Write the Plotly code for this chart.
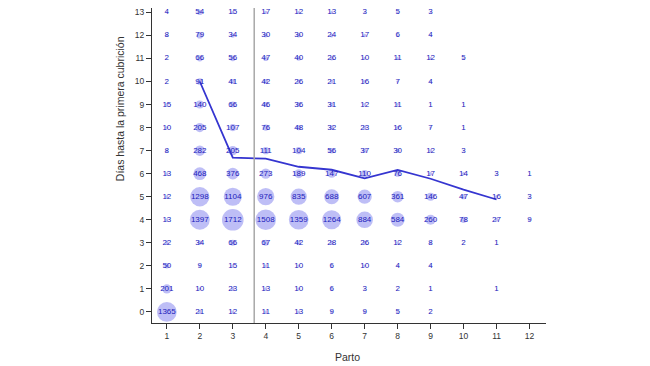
import plotly.graph_objects as go

parto = [1, 2, 3, 4, 5, 6, 7, 8, 9, 10, 11, 12]
dias = list(range(14))

# counts per row (dias value), columns parto 1..12
row0 = [1365, 21, 12, 11, 13, 9, 9, 5, 2, None, None, None]
row1 = [201, 10, 23, 13, 10, 6, 3, 2, 1, None, 1, None]
row2 = [50, 9, 15, 11, 10, 6, 10, 4, 4, None, None, None]
row3 = [22, 34, 66, 67, 42, 28, 26, 12, 8, 2, 1, None]
row4 = [13, 1397, 1712, 1508, 1359, 1264, 884, 584, 260, 78, 27, 9]
row5 = [12, 1298, 1104, 976, 835, 688, 607, 361, 146, 47, 16, 3]
row6 = [13, 468, 376, 273, 189, 147, 110, 76, 17, 14, 3, 1]
row7 = [8, 282, 205, 111, 104, 56, 37, 30, 12, 3, None, None]
row8 = [10, 205, 107, 76, 48, 32, 23, 16, 7, 1, None, None]
row9 = [15, 140, 66, 46, 36, 31, 12, 11, 1, 1, None, None]
row10 = [2, 91, 41, 42, 26, 21, 16, 7, 4, None, None, None]
row11 = [2, 66, 56, 47, 40, 26, 10, 11, 12, 5, None, None]
row12 = [8, 79, 34, 30, 30, 24, 17, 6, 4, None, None, None]
row13 = [4, 54, 15, 17, 12, 13, 3, 5, 3, None, None, None]
rows = [row0, row1, row2, row3, row4, row5, row6, row7, row8, row9,
        row10, row11, row12, row13]

mean_x = [2, 3, 4, 5, 6, 7, 8, 9, 10, 11]
mean_y = [10.0, 6.7, 6.65, 6.3, 6.17, 5.8, 6.16, 5.78, 5.31, 4.88]

split_x = 3.65

xs, ys, cs = [], [], []
for d, row in zip(dias, rows):
    for p, c in zip(parto, row):
        if c is not None:
            xs.append(p)
            ys.append(d)
            cs.append(c)

bubble_px = [1.1 * c ** 0.4 for c in cs]

fig = go.Figure()
fig.add_trace(go.Scatter(
    x=xs, y=ys, mode="markers",
    marker=dict(size=bubble_px, sizemode="diameter", sizemin=0,
                color="rgba(150,150,240,0.88)", line=dict(width=0)),
    hoverinfo="skip", showlegend=False))
fig.add_trace(go.Scatter(
    x=mean_x, y=mean_y, mode="lines",
    line=dict(color="#3535d0", width=1.8), showlegend=False))
fig.add_trace(go.Scatter(
    x=xs, y=ys, mode="text", text=[str(c) for c in cs],
    textposition="middle center", cliponaxis=False,
    textfont=dict(family="Liberation Sans, Arial", size=8, color="#2020bb"),
    showlegend=False))

fig.add_shape(type="line", xref="x", yref="paper", x0=split_x, x1=split_x,
              y0=0, y1=1, line=dict(color="#a8a8a8", width=1.5))

axis_font = dict(family="Liberation Sans, Arial", size=8.5, color="#333")
fig.update_xaxes(range=[0.55, 12.5], tickvals=parto, ticks="outside",
                 ticklen=5, tickcolor="#333", showline=True, linecolor="#333",
                 linewidth=1, showgrid=False, zeroline=False, tickfont=axis_font)
fig.update_yaxes(range=[-0.48, 13.19], tickvals=dias, ticks="outside",
                 ticklen=5, tickcolor="#333", showline=True, linecolor="#333",
                 linewidth=1, showgrid=False, zeroline=False, tickfont=axis_font,
                 ticklabeloverflow="allow")

title_font = dict(family="Liberation Sans, Arial", size=10.5, color="#333")
fig.add_annotation(text="Días hasta la primera cubrición", xref="paper",
                   yref="paper", x=-0.081, y=0.679, textangle=-90,
                   xanchor="center", yanchor="middle",
                   showarrow=False, font=title_font)
fig.add_annotation(text="Parto", xref="paper", yref="paper", x=0.495,
                   y=-0.108, xanchor="center", yanchor="middle",
                   showarrow=False, font=title_font)

fig.update_layout(width=642, height=358,
                  margin=dict(l=144, r=104, t=0, b=43),
                  plot_bgcolor="white", paper_bgcolor="white")

fig.write_html("out.html")
